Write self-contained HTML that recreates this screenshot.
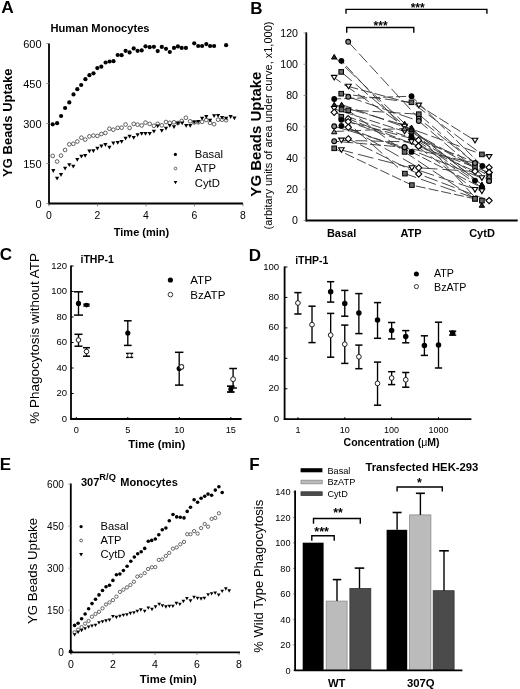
<!DOCTYPE html>
<html><head><meta charset="utf-8"><style>
html,body{margin:0;padding:0;background:#fff;width:520px;height:689px;overflow:hidden}
svg{display:block;filter:grayscale(100%)}
text{font-family:"Liberation Sans", sans-serif}
</style></head><body>
<svg width="520" height="689" viewBox="0 0 520 689">
<rect width="520" height="689" fill="#fff"/>
<text x="1.2" y="12.9" font-size="17.3" font-weight="bold" text-anchor="start" fill="#000">A</text>
<text x="50.5" y="31.5" font-size="11.15" font-weight="bold" text-anchor="start" fill="#000">Human Monocytes</text>
<text x="12.3" y="122.7" font-size="13" font-weight="bold" text-anchor="middle" fill="#000" transform="rotate(-90 12.3 122.7)">YG Beads Uptake</text>
<line x1="49" y1="43.5" x2="49" y2="204.3" stroke="#000" stroke-width="1.8"/>
<line x1="48.2" y1="203.5" x2="243" y2="203.5" stroke="#000" stroke-width="1.8"/>
<line x1="46.2" y1="203.5" x2="49" y2="203.5" stroke="#777" stroke-width="0.7"/>
<text x="41.5" y="208.0" font-size="11" text-anchor="end" fill="#000">0</text>
<line x1="46.2" y1="163.5" x2="49" y2="163.5" stroke="#777" stroke-width="0.7"/>
<text x="41.5" y="168.0" font-size="11" text-anchor="end" fill="#000">150</text>
<line x1="46.2" y1="123.5" x2="49" y2="123.5" stroke="#777" stroke-width="0.7"/>
<text x="41.5" y="128.0" font-size="11" text-anchor="end" fill="#000">300</text>
<line x1="46.2" y1="83.5" x2="49" y2="83.5" stroke="#777" stroke-width="0.7"/>
<text x="41.5" y="88.0" font-size="11" text-anchor="end" fill="#000">450</text>
<line x1="46.2" y1="43.5" x2="49" y2="43.5" stroke="#777" stroke-width="0.7"/>
<text x="41.5" y="48.0" font-size="11" text-anchor="end" fill="#000">600</text>
<line x1="49.0" y1="203.5" x2="49.0" y2="206.3" stroke="#555" stroke-width="0.7"/>
<text x="49.0" y="218.9" font-size="10.4" text-anchor="middle" fill="#000">0</text>
<line x1="97.5" y1="203.5" x2="97.5" y2="206.3" stroke="#555" stroke-width="0.7"/>
<text x="97.5" y="218.9" font-size="10.4" text-anchor="middle" fill="#000">2</text>
<line x1="146.0" y1="203.5" x2="146.0" y2="206.3" stroke="#555" stroke-width="0.7"/>
<text x="146.0" y="218.9" font-size="10.4" text-anchor="middle" fill="#000">4</text>
<line x1="194.5" y1="203.5" x2="194.5" y2="206.3" stroke="#555" stroke-width="0.7"/>
<text x="194.5" y="218.9" font-size="10.4" text-anchor="middle" fill="#000">6</text>
<line x1="243.0" y1="203.5" x2="243.0" y2="206.3" stroke="#555" stroke-width="0.7"/>
<text x="243.0" y="218.9" font-size="10.4" text-anchor="middle" fill="#000">8</text>
<text x="141.5" y="236.4" font-size="11" font-weight="bold" text-anchor="middle" fill="#000">Time (min)</text>
<circle cx="52.7" cy="155.9" r="1.85" fill="#fff" stroke="#444" stroke-width="0.85"/>
<circle cx="57.1" cy="161.5" r="1.85" fill="#fff" stroke="#444" stroke-width="0.85"/>
<circle cx="61" cy="155.6" r="1.85" fill="#fff" stroke="#444" stroke-width="0.85"/>
<circle cx="65.1" cy="150" r="1.85" fill="#fff" stroke="#444" stroke-width="0.85"/>
<circle cx="69.3" cy="144.4" r="1.85" fill="#fff" stroke="#444" stroke-width="0.85"/>
<circle cx="73.3" cy="143.8" r="1.85" fill="#fff" stroke="#444" stroke-width="0.85"/>
<circle cx="77.3" cy="141.5" r="1.85" fill="#fff" stroke="#444" stroke-width="0.85"/>
<circle cx="81.4" cy="137.7" r="1.85" fill="#fff" stroke="#444" stroke-width="0.85"/>
<circle cx="85.2" cy="139.6" r="1.85" fill="#fff" stroke="#444" stroke-width="0.85"/>
<circle cx="89.4" cy="136.4" r="1.85" fill="#fff" stroke="#444" stroke-width="0.85"/>
<circle cx="93.4" cy="135.6" r="1.85" fill="#fff" stroke="#444" stroke-width="0.85"/>
<circle cx="97.4" cy="135.9" r="1.85" fill="#fff" stroke="#444" stroke-width="0.85"/>
<circle cx="101.4" cy="134" r="1.85" fill="#fff" stroke="#444" stroke-width="0.85"/>
<circle cx="105.4" cy="132.9" r="1.85" fill="#fff" stroke="#444" stroke-width="0.85"/>
<circle cx="109.4" cy="128.7" r="1.85" fill="#fff" stroke="#444" stroke-width="0.85"/>
<circle cx="113.3" cy="129.7" r="1.85" fill="#fff" stroke="#444" stroke-width="0.85"/>
<circle cx="117.7" cy="127.9" r="1.85" fill="#fff" stroke="#444" stroke-width="0.85"/>
<circle cx="121.6" cy="127.7" r="1.85" fill="#fff" stroke="#444" stroke-width="0.85"/>
<circle cx="125.6" cy="124.5" r="1.85" fill="#fff" stroke="#444" stroke-width="0.85"/>
<circle cx="129.6" cy="127.9" r="1.85" fill="#fff" stroke="#444" stroke-width="0.85"/>
<circle cx="133.7" cy="123.9" r="1.85" fill="#fff" stroke="#444" stroke-width="0.85"/>
<circle cx="137.6" cy="124.7" r="1.85" fill="#fff" stroke="#444" stroke-width="0.85"/>
<circle cx="141.7" cy="125.5" r="1.85" fill="#fff" stroke="#444" stroke-width="0.85"/>
<circle cx="145.5" cy="122.6" r="1.85" fill="#fff" stroke="#444" stroke-width="0.85"/>
<circle cx="149.7" cy="123.9" r="1.85" fill="#fff" stroke="#444" stroke-width="0.85"/>
<circle cx="153.9" cy="125.8" r="1.85" fill="#fff" stroke="#444" stroke-width="0.85"/>
<circle cx="157.7" cy="123.9" r="1.85" fill="#fff" stroke="#444" stroke-width="0.85"/>
<circle cx="161.8" cy="125.3" r="1.85" fill="#fff" stroke="#444" stroke-width="0.85"/>
<circle cx="166" cy="122" r="1.85" fill="#fff" stroke="#444" stroke-width="0.85"/>
<circle cx="169.8" cy="122.9" r="1.85" fill="#fff" stroke="#444" stroke-width="0.85"/>
<circle cx="174" cy="122.3" r="1.85" fill="#fff" stroke="#444" stroke-width="0.85"/>
<circle cx="177.9" cy="123" r="1.85" fill="#fff" stroke="#444" stroke-width="0.85"/>
<circle cx="181.7" cy="121" r="1.85" fill="#fff" stroke="#444" stroke-width="0.85"/>
<circle cx="185.9" cy="117.8" r="1.85" fill="#fff" stroke="#444" stroke-width="0.85"/>
<circle cx="190.2" cy="121.3" r="1.85" fill="#fff" stroke="#444" stroke-width="0.85"/>
<circle cx="194.2" cy="122.5" r="1.85" fill="#fff" stroke="#444" stroke-width="0.85"/>
<circle cx="198.2" cy="122.3" r="1.85" fill="#fff" stroke="#444" stroke-width="0.85"/>
<circle cx="202.1" cy="121.8" r="1.85" fill="#fff" stroke="#444" stroke-width="0.85"/>
<circle cx="206.3" cy="120" r="1.85" fill="#fff" stroke="#444" stroke-width="0.85"/>
<circle cx="210.1" cy="122.9" r="1.85" fill="#fff" stroke="#444" stroke-width="0.85"/>
<circle cx="214.1" cy="124.2" r="1.85" fill="#fff" stroke="#444" stroke-width="0.85"/>
<circle cx="218.1" cy="119.7" r="1.85" fill="#fff" stroke="#444" stroke-width="0.85"/>
<circle cx="222.1" cy="119.7" r="1.85" fill="#fff" stroke="#444" stroke-width="0.85"/>
<circle cx="226.1" cy="120.2" r="1.85" fill="#fff" stroke="#444" stroke-width="0.85"/>
<path d="M51.20 169.10L55.40 169.10L53.30 172.90Z" fill="#000"/>
<path d="M55.00 176.70L59.20 176.70L57.10 180.50Z" fill="#000"/>
<path d="M58.90 173.10L63.10 173.10L61.00 176.90Z" fill="#000"/>
<path d="M63.00 166.80L67.20 166.80L65.10 170.60Z" fill="#000"/>
<path d="M67.20 163.30L71.40 163.30L69.30 167.10Z" fill="#000"/>
<path d="M71.20 164.80L75.40 164.80L73.30 168.60Z" fill="#000"/>
<path d="M75.20 158.00L79.40 158.00L77.30 161.80Z" fill="#000"/>
<path d="M79.30 154.80L83.50 154.80L81.40 158.60Z" fill="#000"/>
<path d="M83.10 154.00L87.30 154.00L85.20 157.80Z" fill="#000"/>
<path d="M87.30 149.50L91.50 149.50L89.40 153.30Z" fill="#000"/>
<path d="M91.30 149.20L95.50 149.20L93.40 153.00Z" fill="#000"/>
<path d="M95.30 146.80L99.50 146.80L97.40 150.60Z" fill="#000"/>
<path d="M99.30 144.40L103.50 144.40L101.40 148.20Z" fill="#000"/>
<path d="M103.30 143.10L107.50 143.10L105.40 146.90Z" fill="#000"/>
<path d="M107.30 145.70L111.50 145.70L109.40 149.50Z" fill="#000"/>
<path d="M111.20 141.50L115.40 141.50L113.30 145.30Z" fill="#000"/>
<path d="M115.60 140.90L119.80 140.90L117.70 144.70Z" fill="#000"/>
<path d="M119.50 139.90L123.70 139.90L121.60 143.70Z" fill="#000"/>
<path d="M123.50 136.70L127.70 136.70L125.60 140.50Z" fill="#000"/>
<path d="M127.50 134.80L131.70 134.80L129.60 138.60Z" fill="#000"/>
<path d="M131.60 135.90L135.80 135.90L133.70 139.70Z" fill="#000"/>
<path d="M135.50 133.20L139.70 133.20L137.60 137.00Z" fill="#000"/>
<path d="M139.60 131.90L143.80 131.90L141.70 135.70Z" fill="#000"/>
<path d="M143.40 131.90L147.60 131.90L145.50 135.70Z" fill="#000"/>
<path d="M147.60 131.90L151.80 131.90L149.70 135.70Z" fill="#000"/>
<path d="M151.80 129.70L156.00 129.70L153.90 133.50Z" fill="#000"/>
<path d="M155.60 124.40L159.80 124.40L157.70 128.20Z" fill="#000"/>
<path d="M159.70 129.00L163.90 129.00L161.80 132.80Z" fill="#000"/>
<path d="M163.90 126.80L168.10 126.80L166.00 130.60Z" fill="#000"/>
<path d="M167.70 123.90L171.90 123.90L169.80 127.70Z" fill="#000"/>
<path d="M171.90 125.20L176.10 125.20L174.00 129.00Z" fill="#000"/>
<path d="M175.80 121.70L180.00 121.70L177.90 125.50Z" fill="#000"/>
<path d="M180.10 121.50L184.30 121.50L182.20 125.30Z" fill="#000"/>
<path d="M184.10 123.90L188.30 123.90L186.20 127.70Z" fill="#000"/>
<path d="M188.10 123.90L192.30 123.90L190.20 127.70Z" fill="#000"/>
<path d="M192.10 120.40L196.30 120.40L194.20 124.20Z" fill="#000"/>
<path d="M196.10 119.90L200.30 119.90L198.20 123.70Z" fill="#000"/>
<path d="M200.00 116.70L204.20 116.70L202.10 120.50Z" fill="#000"/>
<path d="M204.20 115.10L208.40 115.10L206.30 118.90Z" fill="#000"/>
<path d="M208.00 118.80L212.20 118.80L210.10 122.60Z" fill="#000"/>
<path d="M212.00 114.30L216.20 114.30L214.10 118.10Z" fill="#000"/>
<path d="M216.00 114.00L220.20 114.00L218.10 117.80Z" fill="#000"/>
<path d="M220.00 115.90L224.20 115.90L222.10 119.70Z" fill="#000"/>
<path d="M224.00 116.70L228.20 116.70L226.10 120.50Z" fill="#000"/>
<path d="M228.50 115.10L232.70 115.10L230.60 118.90Z" fill="#000"/>
<path d="M232.30 116.40L236.50 116.40L234.40 120.20Z" fill="#000"/>
<circle cx="52.7" cy="124.3" r="2.1" fill="#000"/>
<circle cx="57.1" cy="123.2" r="2.1" fill="#000"/>
<circle cx="61.1" cy="116" r="2.1" fill="#000"/>
<circle cx="65.1" cy="108" r="2.1" fill="#000"/>
<circle cx="69.3" cy="102.4" r="2.1" fill="#000"/>
<circle cx="73.5" cy="94.4" r="2.1" fill="#000"/>
<circle cx="77.3" cy="89.2" r="2.1" fill="#000"/>
<circle cx="81.2" cy="85" r="2.1" fill="#000"/>
<circle cx="85.4" cy="79.2" r="2.1" fill="#000"/>
<circle cx="89.4" cy="75.2" r="2.1" fill="#000"/>
<circle cx="93.5" cy="73.3" r="2.1" fill="#000"/>
<circle cx="97.3" cy="68.1" r="2.1" fill="#000"/>
<circle cx="101.3" cy="66.7" r="2.1" fill="#000"/>
<circle cx="105.6" cy="62.5" r="2.1" fill="#000"/>
<circle cx="109.6" cy="61.5" r="2.1" fill="#000"/>
<circle cx="113.5" cy="61.2" r="2.1" fill="#000"/>
<circle cx="117.7" cy="55" r="2.1" fill="#000"/>
<circle cx="121.6" cy="55.2" r="2.1" fill="#000"/>
<circle cx="125.6" cy="50.8" r="2.1" fill="#000"/>
<circle cx="129.6" cy="52.4" r="2.1" fill="#000"/>
<circle cx="133.7" cy="48.4" r="2.1" fill="#000"/>
<circle cx="137.6" cy="50.8" r="2.1" fill="#000"/>
<circle cx="141.7" cy="50.4" r="2.1" fill="#000"/>
<circle cx="145.5" cy="46.3" r="2.1" fill="#000"/>
<circle cx="149.7" cy="47.2" r="2.1" fill="#000"/>
<circle cx="153.9" cy="46.8" r="2.1" fill="#000"/>
<circle cx="157.7" cy="51.1" r="2.1" fill="#000"/>
<circle cx="161.8" cy="46.9" r="2.1" fill="#000"/>
<circle cx="166" cy="48.8" r="2.1" fill="#000"/>
<circle cx="169.8" cy="52" r="2.1" fill="#000"/>
<circle cx="174" cy="47.9" r="2.1" fill="#000"/>
<circle cx="177.9" cy="46.4" r="2.1" fill="#000"/>
<circle cx="181.7" cy="47.9" r="2.1" fill="#000"/>
<circle cx="185.9" cy="47.9" r="2.1" fill="#000"/>
<circle cx="194.2" cy="43.3" r="2.1" fill="#000"/>
<circle cx="198.2" cy="46" r="2.1" fill="#000"/>
<circle cx="202.1" cy="46" r="2.1" fill="#000"/>
<circle cx="206.3" cy="44.1" r="2.1" fill="#000"/>
<circle cx="210.1" cy="46" r="2.1" fill="#000"/>
<circle cx="214.1" cy="46" r="2.1" fill="#000"/>
<circle cx="226.1" cy="45.2" r="2.1" fill="#000"/>
<circle cx="175.4" cy="154.4" r="1.6" fill="#000"/>
<circle cx="175.5" cy="168.5" r="1.35" fill="#fff" stroke="#555" stroke-width="0.95"/>
<path d="M173.65 180.95L177.35 180.95L175.50 184.25Z" fill="#000"/>
<text x="194.8" y="158.3" font-size="11.3" text-anchor="start" fill="#000">Basal</text>
<text x="194.8" y="172.4" font-size="11.3" text-anchor="start" fill="#000">ATP</text>
<text x="194.8" y="186.6" font-size="11.3" text-anchor="start" fill="#000">CytD</text>
<text x="-0.3" y="469.7" font-size="17" font-weight="bold" text-anchor="start" fill="#000">E</text>
<text x="81" y="485.8" font-size="11" font-weight="bold">307<tspan font-size="9.3" dy="-5.4">R/Q</tspan></text>
<text x="120.3" y="485.8" font-size="11" font-weight="bold" text-anchor="start" fill="#000">Monocytes</text>
<text x="37.2" y="571.0" font-size="13.25" text-anchor="middle" fill="#000" transform="rotate(-90 37.2 571.0)">YG Beads Uptake</text>
<line x1="70.8" y1="483.5" x2="70.8" y2="653.1999999999999" stroke="#000" stroke-width="1.8"/>
<line x1="70.0" y1="652.4" x2="240" y2="652.4" stroke="#000" stroke-width="1.8"/>
<line x1="68.3" y1="652.4" x2="70.8" y2="652.4" stroke="#777" stroke-width="0.7"/>
<text x="63.8" y="655.9" font-size="10" text-anchor="end" fill="#000">0</text>
<line x1="68.3" y1="610.3" x2="70.8" y2="610.3" stroke="#777" stroke-width="0.7"/>
<text x="63.8" y="613.8" font-size="10" text-anchor="end" fill="#000">150</text>
<line x1="68.3" y1="568.1999999999999" x2="70.8" y2="568.1999999999999" stroke="#777" stroke-width="0.7"/>
<text x="63.8" y="571.6999999999999" font-size="10" text-anchor="end" fill="#000">300</text>
<line x1="68.3" y1="526.1" x2="70.8" y2="526.1" stroke="#777" stroke-width="0.7"/>
<text x="63.8" y="529.6" font-size="10" text-anchor="end" fill="#000">450</text>
<line x1="68.3" y1="484.0" x2="70.8" y2="484.0" stroke="#777" stroke-width="0.7"/>
<text x="63.8" y="487.5" font-size="10" text-anchor="end" fill="#000">600</text>
<line x1="71" y1="652.4" x2="71" y2="654.9" stroke="#555" stroke-width="0.7"/>
<text x="71" y="668.3" font-size="10.5" text-anchor="middle" fill="#000">0</text>
<line x1="113" y1="652.4" x2="113" y2="654.9" stroke="#555" stroke-width="0.7"/>
<text x="113" y="668.3" font-size="10.5" text-anchor="middle" fill="#000">2</text>
<line x1="155" y1="652.4" x2="155" y2="654.9" stroke="#555" stroke-width="0.7"/>
<text x="155" y="668.3" font-size="10.5" text-anchor="middle" fill="#000">4</text>
<line x1="197" y1="652.4" x2="197" y2="654.9" stroke="#555" stroke-width="0.7"/>
<text x="197" y="668.3" font-size="10.5" text-anchor="middle" fill="#000">6</text>
<line x1="239" y1="652.4" x2="239" y2="654.9" stroke="#555" stroke-width="0.7"/>
<text x="239" y="668.3" font-size="10.5" text-anchor="middle" fill="#000">8</text>
<text x="168.3" y="682.6" font-size="11.3" font-weight="bold" text-anchor="middle" fill="#000">Time (min)</text>
<circle cx="70.7" cy="651.5" r="2" fill="#000"/>
<circle cx="74.6" cy="632.3" r="1.65" fill="#fff" stroke="#444" stroke-width="0.8"/>
<circle cx="78.1" cy="629.7" r="1.65" fill="#fff" stroke="#444" stroke-width="0.8"/>
<circle cx="81.6" cy="627.1" r="1.65" fill="#fff" stroke="#444" stroke-width="0.8"/>
<circle cx="85.1" cy="623.6" r="1.65" fill="#fff" stroke="#444" stroke-width="0.8"/>
<circle cx="88.6" cy="621" r="1.65" fill="#fff" stroke="#444" stroke-width="0.8"/>
<circle cx="92" cy="616.7" r="1.65" fill="#fff" stroke="#444" stroke-width="0.8"/>
<circle cx="95.5" cy="614" r="1.65" fill="#fff" stroke="#444" stroke-width="0.8"/>
<circle cx="99" cy="611.8" r="1.65" fill="#fff" stroke="#444" stroke-width="0.8"/>
<circle cx="102.5" cy="608.3" r="1.65" fill="#fff" stroke="#444" stroke-width="0.8"/>
<circle cx="106" cy="604.5" r="1.65" fill="#fff" stroke="#444" stroke-width="0.8"/>
<circle cx="109.5" cy="602.4" r="1.65" fill="#fff" stroke="#444" stroke-width="0.8"/>
<circle cx="112.9" cy="600.1" r="1.65" fill="#fff" stroke="#444" stroke-width="0.8"/>
<circle cx="116.4" cy="596.6" r="1.65" fill="#fff" stroke="#444" stroke-width="0.8"/>
<circle cx="119.9" cy="591.9" r="1.65" fill="#fff" stroke="#444" stroke-width="0.8"/>
<circle cx="123.4" cy="589.7" r="1.65" fill="#fff" stroke="#444" stroke-width="0.8"/>
<circle cx="126.9" cy="587.4" r="1.65" fill="#fff" stroke="#444" stroke-width="0.8"/>
<circle cx="130.4" cy="585" r="1.65" fill="#fff" stroke="#444" stroke-width="0.8"/>
<circle cx="133.9" cy="581.8" r="1.65" fill="#fff" stroke="#444" stroke-width="0.8"/>
<circle cx="137.3" cy="576.6" r="1.65" fill="#fff" stroke="#444" stroke-width="0.8"/>
<circle cx="140.8" cy="575.7" r="1.65" fill="#fff" stroke="#444" stroke-width="0.8"/>
<circle cx="144.7" cy="573.1" r="1.65" fill="#fff" stroke="#444" stroke-width="0.8"/>
<circle cx="148.1" cy="569" r="1.65" fill="#fff" stroke="#444" stroke-width="0.8"/>
<circle cx="151.9" cy="567.3" r="1.65" fill="#fff" stroke="#444" stroke-width="0.8"/>
<circle cx="155.3" cy="567.1" r="1.65" fill="#fff" stroke="#444" stroke-width="0.8"/>
<circle cx="158.8" cy="559.9" r="1.65" fill="#fff" stroke="#444" stroke-width="0.8"/>
<circle cx="162.3" cy="559.4" r="1.65" fill="#fff" stroke="#444" stroke-width="0.8"/>
<circle cx="165.9" cy="555.9" r="1.65" fill="#fff" stroke="#444" stroke-width="0.8"/>
<circle cx="169.2" cy="552.9" r="1.65" fill="#fff" stroke="#444" stroke-width="0.8"/>
<circle cx="172.9" cy="548.7" r="1.65" fill="#fff" stroke="#444" stroke-width="0.8"/>
<circle cx="176.7" cy="547.4" r="1.65" fill="#fff" stroke="#444" stroke-width="0.8"/>
<circle cx="180.3" cy="544.3" r="1.65" fill="#fff" stroke="#444" stroke-width="0.8"/>
<circle cx="184" cy="541.9" r="1.65" fill="#fff" stroke="#444" stroke-width="0.8"/>
<circle cx="187.2" cy="534.2" r="1.65" fill="#fff" stroke="#444" stroke-width="0.8"/>
<circle cx="190.5" cy="534.2" r="1.65" fill="#fff" stroke="#444" stroke-width="0.8"/>
<circle cx="194.1" cy="531.1" r="1.65" fill="#fff" stroke="#444" stroke-width="0.8"/>
<circle cx="197.6" cy="533.6" r="1.65" fill="#fff" stroke="#444" stroke-width="0.8"/>
<circle cx="201.1" cy="528.1" r="1.65" fill="#fff" stroke="#444" stroke-width="0.8"/>
<circle cx="204.7" cy="524" r="1.65" fill="#fff" stroke="#444" stroke-width="0.8"/>
<circle cx="208" cy="526.7" r="1.65" fill="#fff" stroke="#444" stroke-width="0.8"/>
<circle cx="211.6" cy="518.9" r="1.65" fill="#fff" stroke="#444" stroke-width="0.8"/>
<circle cx="215.3" cy="517.9" r="1.65" fill="#fff" stroke="#444" stroke-width="0.8"/>
<circle cx="218.9" cy="513.3" r="1.65" fill="#fff" stroke="#444" stroke-width="0.8"/>
<path d="M72.75 633.25L76.45 633.25L74.60 636.55Z" fill="#000"/>
<path d="M76.25 630.65L79.95 630.65L78.10 633.95Z" fill="#000"/>
<path d="M79.75 628.95L83.45 628.95L81.60 632.25Z" fill="#000"/>
<path d="M83.25 627.25L86.95 627.25L85.10 630.55Z" fill="#000"/>
<path d="M86.75 625.45L90.45 625.45L88.60 628.75Z" fill="#000"/>
<path d="M90.15 624.55L93.85 624.55L92.00 627.85Z" fill="#000"/>
<path d="M93.65 623.75L97.35 623.75L95.50 627.05Z" fill="#000"/>
<path d="M97.15 621.15L100.85 621.15L99.00 624.45Z" fill="#000"/>
<path d="M100.65 620.25L104.35 620.25L102.50 623.55Z" fill="#000"/>
<path d="M104.15 619.35L107.85 619.35L106.00 622.65Z" fill="#000"/>
<path d="M107.65 618.45L111.35 618.45L109.50 621.75Z" fill="#000"/>
<path d="M111.05 615.05L114.75 615.05L112.90 618.35Z" fill="#000"/>
<path d="M114.55 615.85L118.25 615.85L116.40 619.15Z" fill="#000"/>
<path d="M118.05 614.65L121.75 614.65L119.90 617.95Z" fill="#000"/>
<path d="M121.55 613.65L125.25 613.65L123.40 616.95Z" fill="#000"/>
<path d="M125.05 613.25L128.75 613.25L126.90 616.55Z" fill="#000"/>
<path d="M128.55 611.85L132.25 611.85L130.40 615.15Z" fill="#000"/>
<path d="M132.05 611.15L135.75 611.15L133.90 614.45Z" fill="#000"/>
<path d="M135.45 609.75L139.15 609.75L137.30 613.05Z" fill="#000"/>
<path d="M138.95 608.35L142.65 608.35L140.80 611.65Z" fill="#000"/>
<path d="M142.85 609.75L146.55 609.75L144.70 613.05Z" fill="#000"/>
<path d="M146.45 606.55L150.15 606.55L148.30 609.85Z" fill="#000"/>
<path d="M150.15 607.85L153.85 607.85L152.00 611.15Z" fill="#000"/>
<path d="M153.65 605.35L157.35 605.35L155.50 608.65Z" fill="#000"/>
<path d="M157.35 602.65L161.05 602.65L159.20 605.95Z" fill="#000"/>
<path d="M160.55 604.15L164.25 604.15L162.40 607.45Z" fill="#000"/>
<path d="M164.05 605.35L167.75 605.35L165.90 608.65Z" fill="#000"/>
<path d="M167.55 604.65L171.25 604.65L169.40 607.95Z" fill="#000"/>
<path d="M171.05 604.65L174.75 604.65L172.90 607.95Z" fill="#000"/>
<path d="M174.55 601.85L178.25 601.85L176.40 605.15Z" fill="#000"/>
<path d="M178.05 602.65L181.75 602.65L179.90 605.95Z" fill="#000"/>
<path d="M181.55 599.85L185.25 599.85L183.40 603.15Z" fill="#000"/>
<path d="M185.05 597.05L188.75 597.05L186.90 600.35Z" fill="#000"/>
<path d="M188.65 599.35L192.35 599.35L190.50 602.65Z" fill="#000"/>
<path d="M192.15 595.75L195.85 595.75L194.00 599.05Z" fill="#000"/>
<path d="M195.65 596.75L199.35 596.75L197.50 600.05Z" fill="#000"/>
<path d="M199.25 597.35L202.95 597.35L201.10 600.65Z" fill="#000"/>
<path d="M202.55 596.75L206.25 596.75L204.40 600.05Z" fill="#000"/>
<path d="M206.25 593.15L209.95 593.15L208.10 596.45Z" fill="#000"/>
<path d="M209.75 592.15L213.45 592.15L211.60 595.45Z" fill="#000"/>
<path d="M213.35 591.45L217.05 591.45L215.20 594.75Z" fill="#000"/>
<path d="M216.85 593.55L220.55 593.55L218.70 596.85Z" fill="#000"/>
<path d="M220.35 589.65L224.05 589.65L222.20 592.95Z" fill="#000"/>
<path d="M223.95 587.35L227.65 587.35L225.80 590.65Z" fill="#000"/>
<path d="M227.35 589.35L231.05 589.35L229.20 592.65Z" fill="#000"/>
<circle cx="74.6" cy="625.4" r="1.8" fill="#000"/>
<circle cx="78.1" cy="623.3" r="1.8" fill="#000"/>
<circle cx="81.6" cy="618.7" r="1.8" fill="#000"/>
<circle cx="85.1" cy="614" r="1.8" fill="#000"/>
<circle cx="88.6" cy="608.8" r="1.8" fill="#000"/>
<circle cx="92" cy="603.6" r="1.8" fill="#000"/>
<circle cx="95.5" cy="599.2" r="1.8" fill="#000"/>
<circle cx="99" cy="594.9" r="1.8" fill="#000"/>
<circle cx="102.5" cy="590.5" r="1.8" fill="#000"/>
<circle cx="106" cy="586.7" r="1.8" fill="#000"/>
<circle cx="109.5" cy="585.3" r="1.8" fill="#000"/>
<circle cx="112.9" cy="580.4" r="1.8" fill="#000"/>
<circle cx="116.4" cy="574.8" r="1.8" fill="#000"/>
<circle cx="119.9" cy="574" r="1.8" fill="#000"/>
<circle cx="123.4" cy="570.5" r="1.8" fill="#000"/>
<circle cx="127.1" cy="566.2" r="1.8" fill="#000"/>
<circle cx="130.8" cy="561.2" r="1.8" fill="#000"/>
<circle cx="134.3" cy="557" r="1.8" fill="#000"/>
<circle cx="137.7" cy="553.7" r="1.8" fill="#000"/>
<circle cx="141.2" cy="551.7" r="1.8" fill="#000"/>
<circle cx="144.7" cy="548.4" r="1.8" fill="#000"/>
<circle cx="148.3" cy="541.3" r="1.8" fill="#000"/>
<circle cx="151.7" cy="540.4" r="1.8" fill="#000"/>
<circle cx="155.3" cy="539" r="1.8" fill="#000"/>
<circle cx="158.8" cy="534.7" r="1.8" fill="#000"/>
<circle cx="162.3" cy="529.8" r="1.8" fill="#000"/>
<circle cx="165.9" cy="528" r="1.8" fill="#000"/>
<circle cx="169.3" cy="520.7" r="1.8" fill="#000"/>
<circle cx="173" cy="514.5" r="1.8" fill="#000"/>
<circle cx="176.7" cy="516.9" r="1.8" fill="#000"/>
<circle cx="180.3" cy="517.3" r="1.8" fill="#000"/>
<circle cx="184" cy="517.9" r="1.8" fill="#000"/>
<circle cx="187.2" cy="511.4" r="1.8" fill="#000"/>
<circle cx="190.5" cy="507.2" r="1.8" fill="#000"/>
<circle cx="194.1" cy="499.8" r="1.8" fill="#000"/>
<circle cx="197.6" cy="502.3" r="1.8" fill="#000"/>
<circle cx="201.1" cy="498.2" r="1.8" fill="#000"/>
<circle cx="204.7" cy="496.2" r="1.8" fill="#000"/>
<circle cx="208" cy="494.1" r="1.8" fill="#000"/>
<circle cx="211.6" cy="495.2" r="1.8" fill="#000"/>
<circle cx="215.3" cy="490.1" r="1.8" fill="#000"/>
<circle cx="218.9" cy="486.8" r="1.8" fill="#000"/>
<circle cx="222.2" cy="492.5" r="1.8" fill="#000"/>
<circle cx="81.1" cy="526.6" r="1.6" fill="#000"/>
<circle cx="81.1" cy="540.5" r="1.4" fill="#fff" stroke="#555" stroke-width="0.95"/>
<path d="M79.20 553.10L83.00 553.10L81.10 556.50Z" fill="#000"/>
<text x="100.5" y="530.4" font-size="11.2" text-anchor="start" fill="#000">Basal</text>
<text x="100.5" y="544.4" font-size="11.2" text-anchor="start" fill="#000">ATP</text>
<text x="100.5" y="558.3" font-size="11.2" text-anchor="start" fill="#000">CytD</text>
<text x="-0.3" y="260.3" font-size="17" font-weight="bold" text-anchor="start" fill="#000">C</text>
<text x="80.5" y="263" font-size="10.5" font-weight="bold" text-anchor="start" fill="#000">iTHP-1</text>
<text x="38.8" y="338.3" font-size="13.5" text-anchor="middle" fill="#000" transform="rotate(-90 38.8 338.3)">% Phagocytosis without ATP</text>
<line x1="71" y1="265.5" x2="71" y2="419.8" stroke="#000" stroke-width="1.8"/>
<line x1="70.2" y1="419" x2="241.6" y2="419" stroke="#000" stroke-width="1.8"/>
<line x1="71" y1="419.0" x2="73.6" y2="419.0" stroke="#000" stroke-width="1"/>
<text x="67.0" y="421.6" font-size="9.5" text-anchor="end" fill="#000">0</text>
<line x1="71" y1="393.5" x2="73.6" y2="393.5" stroke="#000" stroke-width="1"/>
<text x="67.0" y="396.1" font-size="9.5" text-anchor="end" fill="#000">20</text>
<line x1="71" y1="368.0" x2="73.6" y2="368.0" stroke="#000" stroke-width="1"/>
<text x="67.0" y="370.6" font-size="9.5" text-anchor="end" fill="#000">40</text>
<line x1="71" y1="342.5" x2="73.6" y2="342.5" stroke="#000" stroke-width="1"/>
<text x="67.0" y="345.1" font-size="9.5" text-anchor="end" fill="#000">60</text>
<line x1="71" y1="317.0" x2="73.6" y2="317.0" stroke="#000" stroke-width="1"/>
<text x="67.0" y="319.6" font-size="9.5" text-anchor="end" fill="#000">80</text>
<line x1="71" y1="291.5" x2="73.6" y2="291.5" stroke="#000" stroke-width="1"/>
<text x="67.0" y="294.1" font-size="9.5" text-anchor="end" fill="#000">100</text>
<line x1="71" y1="266.0" x2="73.6" y2="266.0" stroke="#000" stroke-width="1"/>
<text x="67.0" y="268.6" font-size="9.5" text-anchor="end" fill="#000">120</text>
<line x1="76.3" y1="419" x2="76.3" y2="417" stroke="#000" stroke-width="1"/>
<text x="76.3" y="433.4" font-size="9.2" text-anchor="middle" fill="#000">0</text>
<line x1="127.8" y1="419" x2="127.8" y2="417" stroke="#000" stroke-width="1"/>
<text x="127.8" y="433.4" font-size="9.2" text-anchor="middle" fill="#000">5</text>
<line x1="179.3" y1="419" x2="179.3" y2="417" stroke="#000" stroke-width="1"/>
<text x="179.3" y="433.4" font-size="9.2" text-anchor="middle" fill="#000">10</text>
<line x1="230.8" y1="419" x2="230.8" y2="417" stroke="#000" stroke-width="1"/>
<text x="230.8" y="433.4" font-size="9.2" text-anchor="middle" fill="#000">15</text>
<text x="156.8" y="447.8" font-size="11.3" font-weight="bold" text-anchor="middle" fill="#000">Time (min)</text>
<line x1="78.5" y1="291.8" x2="78.5" y2="315.1" stroke="#000" stroke-width="1.35"/>
<line x1="74.0" y1="291.8" x2="83.0" y2="291.8" stroke="#000" stroke-width="1.5"/>
<line x1="74.0" y1="315.1" x2="83.0" y2="315.1" stroke="#000" stroke-width="1.5"/>
<circle cx="78.5" cy="303.4" r="2.6" fill="#000"/>
<line x1="86.5" y1="304.2" x2="86.5" y2="306.0" stroke="#000" stroke-width="1.2"/>
<line x1="83.25" y1="304.2" x2="89.75" y2="304.2" stroke="#000" stroke-width="1.4"/>
<line x1="83.25" y1="306.0" x2="89.75" y2="306.0" stroke="#000" stroke-width="1.4"/>
<circle cx="86.5" cy="305.1" r="2.4" fill="#000"/>
<line x1="78.5" y1="334.3" x2="78.5" y2="346.2" stroke="#000" stroke-width="1.35"/>
<line x1="74.5" y1="334.3" x2="82.5" y2="334.3" stroke="#000" stroke-width="1.5"/>
<line x1="74.5" y1="346.2" x2="82.5" y2="346.2" stroke="#000" stroke-width="1.5"/>
<circle cx="78.5" cy="340" r="2.3" fill="#fff" stroke="#222" stroke-width="1"/>
<line x1="86.5" y1="347.7" x2="86.5" y2="356.2" stroke="#000" stroke-width="1.35"/>
<line x1="83.0" y1="347.7" x2="90.0" y2="347.7" stroke="#000" stroke-width="1.5"/>
<line x1="83.0" y1="356.2" x2="90.0" y2="356.2" stroke="#000" stroke-width="1.5"/>
<circle cx="86.5" cy="351.5" r="2.3" fill="#fff" stroke="#222" stroke-width="1"/>
<line x1="127.8" y1="320.8" x2="127.8" y2="345.4" stroke="#000" stroke-width="1.35"/>
<line x1="123.95" y1="320.8" x2="131.65" y2="320.8" stroke="#000" stroke-width="1.5"/>
<line x1="123.95" y1="345.4" x2="131.65" y2="345.4" stroke="#000" stroke-width="1.5"/>
<circle cx="127.8" cy="333.1" r="2.6" fill="#000"/>
<line x1="129.6" y1="353.4" x2="129.6" y2="357.4" stroke="#000" stroke-width="1.2"/>
<line x1="126.0" y1="353.4" x2="133.2" y2="353.4" stroke="#000" stroke-width="1.4"/>
<line x1="126.0" y1="357.4" x2="133.2" y2="357.4" stroke="#000" stroke-width="1.4"/>
<circle cx="129.6" cy="355.4" r="2.1" fill="#fff" stroke="#222" stroke-width="1"/>
<line x1="179.2" y1="352.3" x2="179.2" y2="385.1" stroke="#000" stroke-width="1.35"/>
<line x1="175.0" y1="352.3" x2="183.39999999999998" y2="352.3" stroke="#000" stroke-width="1.5"/>
<line x1="175.0" y1="385.1" x2="183.39999999999998" y2="385.1" stroke="#000" stroke-width="1.5"/>
<circle cx="179.2" cy="368.5" r="2.6" fill="#000"/>
<line x1="182.0" y1="365.3" x2="182.0" y2="368.5" stroke="#000" stroke-width="1.35"/>
<line x1="180.5" y1="365.3" x2="183.5" y2="365.3" stroke="#000" stroke-width="1.5"/>
<line x1="180.5" y1="368.5" x2="183.5" y2="368.5" stroke="#000" stroke-width="1.5"/>
<circle cx="181.5" cy="366.9" r="2.3" fill="#fff" stroke="#222" stroke-width="1"/>
<line x1="233.1" y1="368.5" x2="233.1" y2="388" stroke="#000" stroke-width="1.35"/>
<line x1="229.25" y1="368.5" x2="236.95" y2="368.5" stroke="#000" stroke-width="1.5"/>
<line x1="229.25" y1="388" x2="236.95" y2="388" stroke="#000" stroke-width="1.5"/>
<circle cx="233.1" cy="379.2" r="2.4" fill="#fff" stroke="#222" stroke-width="1"/>
<line x1="230.8" y1="386.2" x2="230.8" y2="392" stroke="#000" stroke-width="1.5"/>
<line x1="227.05" y1="386.2" x2="234.55" y2="386.2" stroke="#000" stroke-width="1.8"/>
<line x1="227.05" y1="392" x2="234.55" y2="392" stroke="#000" stroke-width="1.8"/>
<circle cx="230.8" cy="389.2" r="2.5" fill="#000"/>
<circle cx="170.4" cy="280" r="2.6" fill="#000"/>
<circle cx="170.4" cy="294.6" r="2.3" fill="#fff" stroke="#222" stroke-width="0.9"/>
<text x="190.2" y="284.4" font-size="11.6" text-anchor="start" fill="#000">ATP</text>
<text x="190.2" y="298.6" font-size="11.6" text-anchor="start" fill="#000">BzATP</text>
<text x="248.7" y="260.9" font-size="17" font-weight="bold" text-anchor="start" fill="#000">D</text>
<text x="295.2" y="263.5" font-size="10.5" font-weight="bold" text-anchor="start" fill="#000">iTHP-1</text>
<line x1="284.6" y1="266.5" x2="284.6" y2="420.0" stroke="#000" stroke-width="1.8"/>
<line x1="283.8" y1="419.2" x2="471.4" y2="419.2" stroke="#000" stroke-width="1.8"/>
<line x1="284.6" y1="419.2" x2="287.40000000000003" y2="419.2" stroke="#000" stroke-width="1"/>
<text x="279.2" y="421.8" font-size="9.6" text-anchor="end" fill="#000">0</text>
<line x1="284.6" y1="388.76" x2="287.40000000000003" y2="388.76" stroke="#000" stroke-width="1"/>
<text x="279.2" y="391.36" font-size="9.6" text-anchor="end" fill="#000">20</text>
<line x1="284.6" y1="358.32" x2="287.40000000000003" y2="358.32" stroke="#000" stroke-width="1"/>
<text x="279.2" y="360.92" font-size="9.6" text-anchor="end" fill="#000">40</text>
<line x1="284.6" y1="327.88" x2="287.40000000000003" y2="327.88" stroke="#000" stroke-width="1"/>
<text x="279.2" y="330.48" font-size="9.6" text-anchor="end" fill="#000">60</text>
<line x1="284.6" y1="297.44" x2="287.40000000000003" y2="297.44" stroke="#000" stroke-width="1"/>
<text x="279.2" y="300.04" font-size="9.6" text-anchor="end" fill="#000">80</text>
<line x1="284.6" y1="267.0" x2="287.40000000000003" y2="267.0" stroke="#000" stroke-width="1"/>
<text x="279.2" y="269.6" font-size="9.6" text-anchor="end" fill="#000">100</text>
<line x1="297.9" y1="419.2" x2="297.9" y2="417.2" stroke="#000" stroke-width="1"/>
<text x="297.9" y="433.2" font-size="9" text-anchor="middle" fill="#000">1</text>
<line x1="344.77" y1="419.2" x2="344.77" y2="417.2" stroke="#000" stroke-width="1"/>
<text x="344.77" y="433.2" font-size="9" text-anchor="middle" fill="#000">10</text>
<line x1="391.64" y1="419.2" x2="391.64" y2="417.2" stroke="#000" stroke-width="1"/>
<text x="391.64" y="433.2" font-size="9" text-anchor="middle" fill="#000">100</text>
<line x1="438.51" y1="419.2" x2="438.51" y2="417.2" stroke="#000" stroke-width="1"/>
<text x="438.51" y="433.2" font-size="9" text-anchor="middle" fill="#000">1000</text>
<text x="391.5" y="446.3" font-size="10.5" font-weight="bold" text-anchor="middle">Concentration (<tspan font-weight="normal">μ</tspan>M)</text>
<line x1="297.9" y1="292.6" x2="297.9" y2="314" stroke="#000" stroke-width="1.35"/>
<line x1="294.29999999999995" y1="292.6" x2="301.5" y2="292.6" stroke="#000" stroke-width="1.5"/>
<line x1="294.29999999999995" y1="314" x2="301.5" y2="314" stroke="#000" stroke-width="1.5"/>
<circle cx="297.9" cy="303" r="2.35" fill="#fff" stroke="#222" stroke-width="1"/>
<line x1="312.00927589677076" y1="306.2" x2="312.00927589677076" y2="342.6" stroke="#000" stroke-width="1.35"/>
<line x1="308.40927589677074" y1="306.2" x2="315.6092758967708" y2="306.2" stroke="#000" stroke-width="1.5"/>
<line x1="308.40927589677074" y1="342.6" x2="315.6092758967708" y2="342.6" stroke="#000" stroke-width="1.5"/>
<circle cx="312.00927589677076" cy="324.7" r="2.35" fill="#fff" stroke="#222" stroke-width="1"/>
<line x1="330.6607241032292" y1="313.4" x2="330.6607241032292" y2="357.2" stroke="#000" stroke-width="1.35"/>
<line x1="327.0607241032292" y1="313.4" x2="334.2607241032292" y2="313.4" stroke="#000" stroke-width="1.5"/>
<line x1="327.0607241032292" y1="357.2" x2="334.2607241032292" y2="357.2" stroke="#000" stroke-width="1.5"/>
<circle cx="330.6607241032292" cy="335.1" r="2.35" fill="#fff" stroke="#222" stroke-width="1"/>
<line x1="344.77" y1="325.1" x2="344.77" y2="363.4" stroke="#000" stroke-width="1.35"/>
<line x1="341.16999999999996" y1="325.1" x2="348.37" y2="325.1" stroke="#000" stroke-width="1.5"/>
<line x1="341.16999999999996" y1="363.4" x2="348.37" y2="363.4" stroke="#000" stroke-width="1.5"/>
<circle cx="344.77" cy="344.2" r="2.35" fill="#fff" stroke="#222" stroke-width="1"/>
<line x1="358.87927589677076" y1="345.1" x2="358.87927589677076" y2="368.7" stroke="#000" stroke-width="1.35"/>
<line x1="355.27927589677074" y1="345.1" x2="362.4792758967708" y2="345.1" stroke="#000" stroke-width="1.5"/>
<line x1="355.27927589677074" y1="368.7" x2="362.4792758967708" y2="368.7" stroke="#000" stroke-width="1.5"/>
<circle cx="358.87927589677076" cy="356.8" r="2.35" fill="#fff" stroke="#222" stroke-width="1"/>
<line x1="377.5307241032292" y1="362.1" x2="377.5307241032292" y2="405.2" stroke="#000" stroke-width="1.35"/>
<line x1="373.9307241032292" y1="362.1" x2="381.1307241032292" y2="362.1" stroke="#000" stroke-width="1.5"/>
<line x1="373.9307241032292" y1="405.2" x2="381.1307241032292" y2="405.2" stroke="#000" stroke-width="1.5"/>
<circle cx="377.5307241032292" cy="383.4" r="2.35" fill="#fff" stroke="#222" stroke-width="1"/>
<line x1="391.64" y1="371.7" x2="391.64" y2="384.6" stroke="#000" stroke-width="1.35"/>
<line x1="388.03999999999996" y1="371.7" x2="395.24" y2="371.7" stroke="#000" stroke-width="1.5"/>
<line x1="388.03999999999996" y1="384.6" x2="395.24" y2="384.6" stroke="#000" stroke-width="1.5"/>
<circle cx="391.64" cy="378" r="2.35" fill="#fff" stroke="#222" stroke-width="1"/>
<line x1="405.74927589677077" y1="372.5" x2="405.74927589677077" y2="387.2" stroke="#000" stroke-width="1.35"/>
<line x1="402.14927589677075" y1="372.5" x2="409.3492758967708" y2="372.5" stroke="#000" stroke-width="1.5"/>
<line x1="402.14927589677075" y1="387.2" x2="409.3492758967708" y2="387.2" stroke="#000" stroke-width="1.5"/>
<circle cx="405.74927589677077" cy="379.8" r="2.35" fill="#fff" stroke="#222" stroke-width="1"/>
<line x1="330.6607241032292" y1="281.7" x2="330.6607241032292" y2="302.1" stroke="#000" stroke-width="1.35"/>
<line x1="327.0607241032292" y1="281.7" x2="334.2607241032292" y2="281.7" stroke="#000" stroke-width="1.5"/>
<line x1="327.0607241032292" y1="302.1" x2="334.2607241032292" y2="302.1" stroke="#000" stroke-width="1.5"/>
<circle cx="330.6607241032292" cy="291.7" r="2.75" fill="#000"/>
<line x1="344.77" y1="290.4" x2="344.77" y2="316.2" stroke="#000" stroke-width="1.35"/>
<line x1="341.16999999999996" y1="290.4" x2="348.37" y2="290.4" stroke="#000" stroke-width="1.5"/>
<line x1="341.16999999999996" y1="316.2" x2="348.37" y2="316.2" stroke="#000" stroke-width="1.5"/>
<circle cx="344.77" cy="303.6" r="2.75" fill="#000"/>
<line x1="358.87927589677076" y1="293.6" x2="358.87927589677076" y2="333.6" stroke="#000" stroke-width="1.35"/>
<line x1="355.27927589677074" y1="293.6" x2="362.4792758967708" y2="293.6" stroke="#000" stroke-width="1.5"/>
<line x1="355.27927589677074" y1="333.6" x2="362.4792758967708" y2="333.6" stroke="#000" stroke-width="1.5"/>
<circle cx="358.87927589677076" cy="313" r="2.75" fill="#000"/>
<line x1="377.5307241032292" y1="302.6" x2="377.5307241032292" y2="338.3" stroke="#000" stroke-width="1.35"/>
<line x1="373.9307241032292" y1="302.6" x2="381.1307241032292" y2="302.6" stroke="#000" stroke-width="1.5"/>
<line x1="373.9307241032292" y1="338.3" x2="381.1307241032292" y2="338.3" stroke="#000" stroke-width="1.5"/>
<circle cx="377.5307241032292" cy="320" r="2.75" fill="#000"/>
<line x1="391.64" y1="322.5" x2="391.64" y2="338.9" stroke="#000" stroke-width="1.35"/>
<line x1="388.03999999999996" y1="322.5" x2="395.24" y2="322.5" stroke="#000" stroke-width="1.5"/>
<line x1="388.03999999999996" y1="338.9" x2="395.24" y2="338.9" stroke="#000" stroke-width="1.5"/>
<circle cx="391.64" cy="330.4" r="2.75" fill="#000"/>
<line x1="405.74927589677077" y1="330.6" x2="405.74927589677077" y2="342.8" stroke="#000" stroke-width="1.35"/>
<line x1="402.14927589677075" y1="330.6" x2="409.3492758967708" y2="330.6" stroke="#000" stroke-width="1.5"/>
<line x1="402.14927589677075" y1="342.8" x2="409.3492758967708" y2="342.8" stroke="#000" stroke-width="1.5"/>
<circle cx="405.74927589677077" cy="336.4" r="2.75" fill="#000"/>
<line x1="424.40072410322915" y1="335.8" x2="424.40072410322915" y2="355.4" stroke="#000" stroke-width="1.35"/>
<line x1="420.80072410322913" y1="335.8" x2="428.0007241032292" y2="335.8" stroke="#000" stroke-width="1.5"/>
<line x1="420.80072410322913" y1="355.4" x2="428.0007241032292" y2="355.4" stroke="#000" stroke-width="1.5"/>
<circle cx="424.40072410322915" cy="345.5" r="2.75" fill="#000"/>
<line x1="438.51" y1="322.2" x2="438.51" y2="368" stroke="#000" stroke-width="1.35"/>
<line x1="434.90999999999997" y1="322.2" x2="442.11" y2="322.2" stroke="#000" stroke-width="1.5"/>
<line x1="434.90999999999997" y1="368" x2="442.11" y2="368" stroke="#000" stroke-width="1.5"/>
<circle cx="438.51" cy="344.9" r="2.75" fill="#000"/>
<line x1="452.6192758967708" y1="331.2" x2="452.6192758967708" y2="335.1" stroke="#000" stroke-width="1.35"/>
<line x1="449.01927589677075" y1="331.2" x2="456.2192758967708" y2="331.2" stroke="#000" stroke-width="1.5"/>
<line x1="449.01927589677075" y1="335.1" x2="456.2192758967708" y2="335.1" stroke="#000" stroke-width="1.5"/>
<circle cx="452.6192758967708" cy="333.1" r="2.75" fill="#000"/>
<circle cx="416.4" cy="274.1" r="2.5" fill="#000"/>
<circle cx="416.4" cy="286.6" r="2.1" fill="#fff" stroke="#222" stroke-width="0.9"/>
<text x="434.0" y="277.4" font-size="10.7" text-anchor="start" fill="#000">ATP</text>
<text x="434.0" y="290.5" font-size="10.7" text-anchor="start" fill="#000">BzATP</text>
<text x="249.2" y="469.7" font-size="17" font-weight="bold" text-anchor="start" fill="#000">F</text>
<text x="365.4" y="471.2" font-size="11.3" font-weight="bold" text-anchor="start" fill="#000">Transfected HEK-293</text>
<text x="263.0" y="576.2" font-size="13.0" text-anchor="middle" fill="#000" transform="rotate(-90 263.0 576.2)">% Wild Type Phagocytosis</text>
<line x1="292.90000000000003" y1="670.3" x2="295.1" y2="670.3" stroke="#777" stroke-width="0.7"/>
<text x="290.5" y="673.5999999999999" font-size="9.2" text-anchor="end" fill="#000">0</text>
<line x1="292.90000000000003" y1="644.8285714285714" x2="295.1" y2="644.8285714285714" stroke="#777" stroke-width="0.7"/>
<text x="290.5" y="648.1285714285714" font-size="9.2" text-anchor="end" fill="#000">20</text>
<line x1="292.90000000000003" y1="619.3571428571428" x2="295.1" y2="619.3571428571428" stroke="#777" stroke-width="0.7"/>
<text x="290.5" y="622.6571428571427" font-size="9.2" text-anchor="end" fill="#000">40</text>
<line x1="292.90000000000003" y1="593.8857142857142" x2="295.1" y2="593.8857142857142" stroke="#777" stroke-width="0.7"/>
<text x="290.5" y="597.1857142857142" font-size="9.2" text-anchor="end" fill="#000">60</text>
<line x1="292.90000000000003" y1="568.4142857142857" x2="295.1" y2="568.4142857142857" stroke="#777" stroke-width="0.7"/>
<text x="290.5" y="571.7142857142857" font-size="9.2" text-anchor="end" fill="#000">80</text>
<line x1="292.90000000000003" y1="542.9428571428571" x2="295.1" y2="542.9428571428571" stroke="#777" stroke-width="0.7"/>
<text x="290.5" y="546.242857142857" font-size="9.2" text-anchor="end" fill="#000">100</text>
<line x1="292.90000000000003" y1="517.4714285714285" x2="295.1" y2="517.4714285714285" stroke="#777" stroke-width="0.7"/>
<text x="290.5" y="520.7714285714285" font-size="9.2" text-anchor="end" fill="#000">120</text>
<line x1="292.90000000000003" y1="491.99999999999994" x2="295.1" y2="491.99999999999994" stroke="#777" stroke-width="0.7"/>
<text x="290.5" y="495.29999999999995" font-size="9.2" text-anchor="end" fill="#000">140</text>
<rect x="302.7" y="542.7" width="20.900000000000034" height="127.59999999999991" fill="#000"/>
<rect x="326.2" y="601.1" width="20.900000000000034" height="69.19999999999993" fill="#bbb" stroke="#8a8a8a" stroke-width="0.8"/>
<line x1="337.0" y1="579.6" x2="337.0" y2="601.1" stroke="#000" stroke-width="1.4"/>
<line x1="332.75" y1="579.6" x2="341.25" y2="579.6" stroke="#000" stroke-width="1.6"/>
<rect x="349.9" y="588.4" width="20.900000000000034" height="81.89999999999998" fill="#4b4b4b" stroke="#333" stroke-width="0.8"/>
<line x1="359.5" y1="568.1" x2="359.5" y2="588.4" stroke="#000" stroke-width="1.4"/>
<line x1="354.75" y1="568.1" x2="364.25" y2="568.1" stroke="#000" stroke-width="1.6"/>
<rect x="386.6" y="529.8" width="20.599999999999966" height="140.5" fill="#000"/>
<line x1="397.1" y1="512.5" x2="397.1" y2="529.8" stroke="#000" stroke-width="1.4"/>
<line x1="392.6" y1="512.5" x2="401.6" y2="512.5" stroke="#000" stroke-width="1.6"/>
<rect x="409.6" y="514.9" width="21.299999999999955" height="155.39999999999998" fill="#bbb" stroke="#8a8a8a" stroke-width="0.8"/>
<line x1="420.4" y1="493.3" x2="420.4" y2="514.9" stroke="#000" stroke-width="1.4"/>
<line x1="415.9" y1="493.3" x2="424.9" y2="493.3" stroke="#000" stroke-width="1.6"/>
<rect x="433.2" y="590.7" width="20.900000000000034" height="79.59999999999991" fill="#4b4b4b" stroke="#333" stroke-width="0.8"/>
<line x1="444.0" y1="550.8" x2="444.0" y2="590.7" stroke="#000" stroke-width="1.4"/>
<line x1="439.2" y1="550.8" x2="448.8" y2="550.8" stroke="#000" stroke-width="1.6"/>
<line x1="295.1" y1="490.5" x2="295.1" y2="671.0999999999999" stroke="#000" stroke-width="1.8"/>
<line x1="294.3" y1="670.3" x2="462.4" y2="670.3" stroke="#000" stroke-width="1.8"/>
<text x="336.7" y="687.2" font-size="11.3" font-weight="bold" text-anchor="middle" fill="#000">WT</text>
<text x="420.7" y="686.6" font-size="11.3" font-weight="bold" text-anchor="middle" fill="#000">307Q</text>
<rect x="300.6" y="468.2" width="21.8" height="4.1" fill="#000"/>
<rect x="301.0" y="480.2" width="21.2" height="3.6" fill="#bbb" stroke="#8a8a8a" stroke-width="0.8"/>
<rect x="301.0" y="491.8" width="21.2" height="3.6" fill="#4b4b4b" stroke="#333" stroke-width="0.8"/>
<text x="327.4" y="473.7" font-size="9.2" text-anchor="start" fill="#000">Basal</text>
<text x="327.4" y="485.2" font-size="9.2" text-anchor="start" fill="#000">BzATP</text>
<text x="327.4" y="496.7" font-size="9.2" text-anchor="start" fill="#000">CytD</text>
<path d="M311.8 540.8V535.8H334.2V540.8" fill="none" stroke="#000" stroke-width="1.4"/>
<text x="321.6" y="535.9" font-size="12.5" font-weight="bold" text-anchor="middle" fill="#000">***</text>
<path d="M313.5 523.8V518.5H360.3V523.8" fill="none" stroke="#000" stroke-width="1.4"/>
<text x="338.0" y="516.6" font-size="12.3" font-weight="bold" text-anchor="middle" fill="#000">**</text>
<path d="M397.1 491.5V487H442.3V491.5" fill="none" stroke="#000" stroke-width="1.4"/>
<text x="419.5" y="487.4" font-size="12.3" font-weight="bold" text-anchor="middle" fill="#000">*</text>
<text x="250.2" y="13.8" font-size="17" font-weight="bold" text-anchor="start" fill="#000">B</text>
<text x="261.2" y="134.1" font-size="15" font-weight="bold" text-anchor="middle" fill="#000" transform="rotate(-90 261.2 134.1)">YG Beads Uptake</text>
<text x="272" y="125.5" font-size="11" text-anchor="middle" fill="#000" transform="rotate(-90 272 125.5)">(arbitary units of area under curve, x1,000)</text>
<line x1="306.3" y1="32.3" x2="306.3" y2="221.3" stroke="#000" stroke-width="1.8"/>
<line x1="305.5" y1="220.5" x2="517.7" y2="220.5" stroke="#000" stroke-width="1.8"/>
<line x1="303.5" y1="220.5" x2="306.3" y2="220.5" stroke="#777" stroke-width="0.7"/>
<text x="298" y="224.3" font-size="10.6" text-anchor="end" fill="#000">0</text>
<line x1="303.5" y1="189.25" x2="306.3" y2="189.25" stroke="#777" stroke-width="0.7"/>
<text x="298" y="193.05" font-size="10.6" text-anchor="end" fill="#000">20</text>
<line x1="303.5" y1="158.0" x2="306.3" y2="158.0" stroke="#777" stroke-width="0.7"/>
<text x="298" y="161.8" font-size="10.6" text-anchor="end" fill="#000">40</text>
<line x1="303.5" y1="126.75" x2="306.3" y2="126.75" stroke="#777" stroke-width="0.7"/>
<text x="298" y="130.55" font-size="10.6" text-anchor="end" fill="#000">60</text>
<line x1="303.5" y1="95.5" x2="306.3" y2="95.5" stroke="#777" stroke-width="0.7"/>
<text x="298" y="99.3" font-size="10.6" text-anchor="end" fill="#000">80</text>
<line x1="303.5" y1="64.25" x2="306.3" y2="64.25" stroke="#777" stroke-width="0.7"/>
<text x="298" y="68.05" font-size="10.6" text-anchor="end" fill="#000">100</text>
<line x1="303.5" y1="33.0" x2="306.3" y2="33.0" stroke="#777" stroke-width="0.7"/>
<text x="298" y="36.8" font-size="10.6" text-anchor="end" fill="#000">120</text>
<text x="341.6" y="236.7" font-size="11" font-weight="bold" text-anchor="middle" fill="#000">Basal</text>
<text x="411" y="236.7" font-size="11" font-weight="bold" text-anchor="middle" fill="#000">ATP</text>
<text x="482" y="236.7" font-size="11" font-weight="bold" text-anchor="middle" fill="#000">CytD</text>
<path d="M346 13.8V9.4H486.9V13.8" fill="none" stroke="#000" stroke-width="1.4"/>
<text x="417.7" y="12.1" font-size="12" font-weight="bold" text-anchor="middle" fill="#000">***</text>
<path d="M346.7 32.8V27.5H413.8V32.8" fill="none" stroke="#000" stroke-width="1.4"/>
<text x="380.6" y="29.9" font-size="12" font-weight="bold" text-anchor="middle" fill="#000">***</text>
<path d="M348.2 41.8L418.8 118.5L475 163.1" fill="none" stroke="#333" stroke-width="0.9" stroke-dasharray="12 4" stroke-dashoffset="0"/>
<path d="M334.2 56.7L404.6 123.5L481.9 184.6" fill="none" stroke="#333" stroke-width="0.9" stroke-dasharray="14 4" stroke-dashoffset="3"/>
<path d="M341.4 60.8L411.5 136.5L475 180.6" fill="none" stroke="#333" stroke-width="0.9" stroke-dasharray="10 3" stroke-dashoffset="6"/>
<path d="M341.2 71.9L411.5 131.5L475 166.9" fill="none" stroke="#333" stroke-width="0.9" stroke-dasharray="16 5" stroke-dashoffset="2"/>
<path d="M334.2 77.7L404.6 126.5L489.1 156.9" fill="none" stroke="#333" stroke-width="0.9" stroke-dasharray="13 4" stroke-dashoffset="5"/>
<path d="M348.5 86.5L418.8 105.4L475 140.6" fill="none" stroke="#333" stroke-width="0.9" stroke-dasharray="11 3" stroke-dashoffset="1"/>
<path d="M341.2 93.7L411.5 102.3L481.9 154.4" fill="none" stroke="#333" stroke-width="0.9" stroke-dasharray="12 4" stroke-dashoffset="4"/>
<path d="M348.3 96.8L418.8 121.0L489.1 181" fill="none" stroke="#333" stroke-width="0.9" stroke-dasharray="14 4" stroke-dashoffset="0"/>
<path d="M334.2 99L411.5 96.2L482.3 166" fill="none" stroke="#333" stroke-width="0.9" stroke-dasharray="10 3" stroke-dashoffset="3"/>
<path d="M334.2 104.5L411.5 127.3L481.9 205" fill="none" stroke="#333" stroke-width="0.9" stroke-dasharray="16 5" stroke-dashoffset="6"/>
<path d="M341.6 104.5L411.5 129.5L481.9 184.6" fill="none" stroke="#333" stroke-width="0.9" stroke-dasharray="13 4" stroke-dashoffset="2"/>
<path d="M334.2 108.8L404.6 131.5L481.9 178.1" fill="none" stroke="#333" stroke-width="0.9" stroke-dasharray="11 3" stroke-dashoffset="5"/>
<path d="M341.6 109.5L418.8 114.2L489.1 175.6" fill="none" stroke="#333" stroke-width="0.9" stroke-dasharray="12 4" stroke-dashoffset="1"/>
<path d="M348.2 110.3L404.6 151.9L475 198.8" fill="none" stroke="#333" stroke-width="0.9" stroke-dasharray="14 4" stroke-dashoffset="4"/>
<path d="M334.2 112.3L418.5 140.2L489.1 167.5" fill="none" stroke="#333" stroke-width="0.9" stroke-dasharray="10 3" stroke-dashoffset="0"/>
<path d="M341.3 116.9L404.9 173.6L481.9 200.6" fill="none" stroke="#333" stroke-width="0.9" stroke-dasharray="16 5" stroke-dashoffset="3"/>
<path d="M341.3 119.8L411.5 138.5L481.9 187.7" fill="none" stroke="#333" stroke-width="0.9" stroke-dasharray="13 4" stroke-dashoffset="6"/>
<path d="M348.2 118.7L418.5 146.2L475 171.3" fill="none" stroke="#333" stroke-width="0.9" stroke-dasharray="11 3" stroke-dashoffset="2"/>
<path d="M348.2 121.7L418.5 146.2L489.1 172.5" fill="none" stroke="#333" stroke-width="0.9" stroke-dasharray="12 4" stroke-dashoffset="5"/>
<path d="M334.2 126.3L404.6 147.3L489.1 181" fill="none" stroke="#333" stroke-width="0.9" stroke-dasharray="14 4" stroke-dashoffset="1"/>
<path d="M341.4 125.8L411.5 151.9L481.9 187.7" fill="none" stroke="#333" stroke-width="0.9" stroke-dasharray="10 3" stroke-dashoffset="4"/>
<path d="M348.3 127.3L418.7 167.8L489.1 172.5" fill="none" stroke="#333" stroke-width="0.9" stroke-dasharray="16 5" stroke-dashoffset="0"/>
<path d="M334.2 131.5L404.6 128.5L489.1 176.0" fill="none" stroke="#333" stroke-width="0.9" stroke-dasharray="13 4" stroke-dashoffset="3"/>
<path d="M334.2 141.2L404.6 147.3L475 163.1" fill="none" stroke="#333" stroke-width="0.9" stroke-dasharray="11 3" stroke-dashoffset="6"/>
<path d="M341.4 140.4L411.5 141.9L475 189.8" fill="none" stroke="#333" stroke-width="0.9" stroke-dasharray="12 4" stroke-dashoffset="2"/>
<path d="M348.3 138.8L418.7 174L489.1 200.6" fill="none" stroke="#333" stroke-width="0.9" stroke-dasharray="14 4" stroke-dashoffset="5"/>
<path d="M334.2 148.3L411.9 185.1L475 198.8" fill="none" stroke="#333" stroke-width="0.9" stroke-dasharray="10 3" stroke-dashoffset="1"/>
<path d="M341.4 150L411.9 168.1L481.9 191.3" fill="none" stroke="#333" stroke-width="0.9" stroke-dasharray="16 5" stroke-dashoffset="4"/>
<circle cx="348.2" cy="41.8" r="2.4" fill="#8a8a8a" stroke="#000" stroke-width="1.1"/>
<path d="M331.50 59.00L336.90 59.00L334.20 54.40Z" fill="#222" stroke="#000" stroke-width="1" stroke-linejoin="miter"/>
<circle cx="341.4" cy="60.8" r="2.9" fill="#000"/>
<rect x="338.9" y="69.60000000000001" width="4.6" height="4.6" fill="#666" stroke="#000" stroke-width="1"/>
<path d="M331.40 75.40L337.00 75.40L334.20 80.00Z" fill="#fff" stroke="#000" stroke-width="1.1" stroke-linejoin="miter"/>
<path d="M345.70 84.20L351.30 84.20L348.50 88.80Z" fill="#fff" stroke="#000" stroke-width="1.1" stroke-linejoin="miter"/>
<rect x="338.9" y="91.4" width="4.6" height="4.6" fill="#666" stroke="#000" stroke-width="1"/>
<circle cx="348.3" cy="96.8" r="2.4" fill="#8a8a8a" stroke="#000" stroke-width="1.1"/>
<circle cx="334.2" cy="99" r="2.9" fill="#000"/>
<path d="M331.50 106.80L336.90 106.80L334.20 102.20Z" fill="#222" stroke="#000" stroke-width="1" stroke-linejoin="miter"/>
<path d="M338.90 106.80L344.30 106.80L341.60 102.20Z" fill="#222" stroke="#000" stroke-width="1" stroke-linejoin="miter"/>
<path d="M331.40 106.50L337.00 106.50L334.20 111.10Z" fill="#fff" stroke="#000" stroke-width="1.1" stroke-linejoin="miter"/>
<rect x="339.3" y="107.2" width="4.6" height="4.6" fill="#666" stroke="#000" stroke-width="1"/>
<rect x="345.9" y="108.0" width="4.6" height="4.6" fill="#666" stroke="#000" stroke-width="1"/>
<path d="M334.2 109.2L337.3 112.3L334.2 115.39999999999999L331.09999999999997 112.3Z" fill="#fff" stroke="#000" stroke-width="1.1"/>
<rect x="339.0" y="114.60000000000001" width="4.6" height="4.6" fill="#666" stroke="#000" stroke-width="1"/>
<circle cx="341.3" cy="119.8" r="2.9" fill="#000"/>
<path d="M348.2 115.60000000000001L351.3 118.7L348.2 121.8L345.09999999999997 118.7Z" fill="#fff" stroke="#000" stroke-width="1.1"/>
<path d="M348.2 118.60000000000001L351.3 121.7L348.2 124.8L345.09999999999997 121.7Z" fill="#fff" stroke="#000" stroke-width="1.1"/>
<circle cx="334.2" cy="126.3" r="2.4" fill="#8a8a8a" stroke="#000" stroke-width="1.1"/>
<circle cx="341.4" cy="125.8" r="2.9" fill="#000"/>
<path d="M348.3 124.2L351.40000000000003 127.3L348.3 130.4L345.2 127.3Z" fill="#fff" stroke="#000" stroke-width="1.1"/>
<path d="M331.50 133.80L336.90 133.80L334.20 129.20Z" fill="#888" stroke="#000" stroke-width="1" stroke-linejoin="miter"/>
<circle cx="334.2" cy="141.2" r="2.4" fill="#8a8a8a" stroke="#000" stroke-width="1.1"/>
<path d="M338.60 138.10L344.20 138.10L341.40 142.70Z" fill="#fff" stroke="#000" stroke-width="1.1" stroke-linejoin="miter"/>
<path d="M348.3 135.70000000000002L351.40000000000003 138.8L348.3 141.9L345.2 138.8Z" fill="#fff" stroke="#000" stroke-width="1.1"/>
<rect x="331.9" y="146.0" width="4.6" height="4.6" fill="#666" stroke="#000" stroke-width="1"/>
<path d="M338.60 147.70L344.20 147.70L341.40 152.30Z" fill="#fff" stroke="#000" stroke-width="1.1" stroke-linejoin="miter"/>
<circle cx="418.8" cy="118.5" r="2.4" fill="#8a8a8a" stroke="#000" stroke-width="1.1"/>
<path d="M401.90 125.80L407.30 125.80L404.60 121.20Z" fill="#222" stroke="#000" stroke-width="1" stroke-linejoin="miter"/>
<circle cx="411.5" cy="136.5" r="2.9" fill="#000"/>
<rect x="409.2" y="129.2" width="4.6" height="4.6" fill="#666" stroke="#000" stroke-width="1"/>
<path d="M401.80 124.20L407.40 124.20L404.60 128.80Z" fill="#fff" stroke="#000" stroke-width="1.1" stroke-linejoin="miter"/>
<path d="M416.00 103.10L421.60 103.10L418.80 107.70Z" fill="#fff" stroke="#000" stroke-width="1.1" stroke-linejoin="miter"/>
<rect x="409.2" y="100.0" width="4.6" height="4.6" fill="#666" stroke="#000" stroke-width="1"/>
<circle cx="418.8" cy="121.0" r="2.4" fill="#8a8a8a" stroke="#000" stroke-width="1.1"/>
<circle cx="411.5" cy="96.2" r="2.9" fill="#000"/>
<path d="M408.80 129.60L414.20 129.60L411.50 125.00Z" fill="#222" stroke="#000" stroke-width="1" stroke-linejoin="miter"/>
<path d="M408.80 131.80L414.20 131.80L411.50 127.20Z" fill="#222" stroke="#000" stroke-width="1" stroke-linejoin="miter"/>
<path d="M401.80 129.20L407.40 129.20L404.60 133.80Z" fill="#fff" stroke="#000" stroke-width="1.1" stroke-linejoin="miter"/>
<rect x="416.5" y="111.9" width="4.6" height="4.6" fill="#666" stroke="#000" stroke-width="1"/>
<rect x="402.3" y="149.6" width="4.6" height="4.6" fill="#666" stroke="#000" stroke-width="1"/>
<path d="M418.5 137.1L421.6 140.2L418.5 143.29999999999998L415.4 140.2Z" fill="#fff" stroke="#000" stroke-width="1.1"/>
<rect x="402.59999999999997" y="171.29999999999998" width="4.6" height="4.6" fill="#666" stroke="#000" stroke-width="1"/>
<circle cx="411.5" cy="138.5" r="2.9" fill="#000"/>
<path d="M418.5 143.1L421.6 146.2L418.5 149.29999999999998L415.4 146.2Z" fill="#fff" stroke="#000" stroke-width="1.1"/>
<path d="M418.5 143.1L421.6 146.2L418.5 149.29999999999998L415.4 146.2Z" fill="#fff" stroke="#000" stroke-width="1.1"/>
<circle cx="404.6" cy="147.3" r="2.4" fill="#8a8a8a" stroke="#000" stroke-width="1.1"/>
<circle cx="411.5" cy="151.9" r="2.9" fill="#000"/>
<path d="M418.7 164.70000000000002L421.8 167.8L418.7 170.9L415.59999999999997 167.8Z" fill="#fff" stroke="#000" stroke-width="1.1"/>
<path d="M401.90 130.80L407.30 130.80L404.60 126.20Z" fill="#888" stroke="#000" stroke-width="1" stroke-linejoin="miter"/>
<circle cx="404.6" cy="147.3" r="2.4" fill="#8a8a8a" stroke="#000" stroke-width="1.1"/>
<path d="M408.70 139.60L414.30 139.60L411.50 144.20Z" fill="#fff" stroke="#000" stroke-width="1.1" stroke-linejoin="miter"/>
<path d="M418.7 170.9L421.8 174L418.7 177.1L415.59999999999997 174Z" fill="#fff" stroke="#000" stroke-width="1.1"/>
<rect x="409.59999999999997" y="182.79999999999998" width="4.6" height="4.6" fill="#666" stroke="#000" stroke-width="1"/>
<path d="M409.10 165.80L414.70 165.80L411.90 170.40Z" fill="#fff" stroke="#000" stroke-width="1.1" stroke-linejoin="miter"/>
<circle cx="475" cy="163.1" r="2.4" fill="#8a8a8a" stroke="#000" stroke-width="1.1"/>
<path d="M479.20 186.90L484.60 186.90L481.90 182.30Z" fill="#222" stroke="#000" stroke-width="1" stroke-linejoin="miter"/>
<circle cx="475" cy="180.6" r="2.9" fill="#000"/>
<rect x="472.7" y="164.6" width="4.6" height="4.6" fill="#666" stroke="#000" stroke-width="1"/>
<path d="M486.30 154.60L491.90 154.60L489.10 159.20Z" fill="#fff" stroke="#000" stroke-width="1.1" stroke-linejoin="miter"/>
<path d="M472.20 138.30L477.80 138.30L475.00 142.90Z" fill="#fff" stroke="#000" stroke-width="1.1" stroke-linejoin="miter"/>
<rect x="479.59999999999997" y="152.1" width="4.6" height="4.6" fill="#666" stroke="#000" stroke-width="1"/>
<circle cx="489.1" cy="181" r="2.4" fill="#8a8a8a" stroke="#000" stroke-width="1.1"/>
<circle cx="482.3" cy="166" r="2.9" fill="#000"/>
<path d="M479.20 207.30L484.60 207.30L481.90 202.70Z" fill="#222" stroke="#000" stroke-width="1" stroke-linejoin="miter"/>
<path d="M479.20 186.90L484.60 186.90L481.90 182.30Z" fill="#222" stroke="#000" stroke-width="1" stroke-linejoin="miter"/>
<path d="M479.10 175.80L484.70 175.80L481.90 180.40Z" fill="#fff" stroke="#000" stroke-width="1.1" stroke-linejoin="miter"/>
<rect x="486.8" y="173.29999999999998" width="4.6" height="4.6" fill="#666" stroke="#000" stroke-width="1"/>
<rect x="472.7" y="196.5" width="4.6" height="4.6" fill="#666" stroke="#000" stroke-width="1"/>
<path d="M489.1 164.4L492.20000000000005 167.5L489.1 170.6L486.0 167.5Z" fill="#fff" stroke="#000" stroke-width="1.1"/>
<rect x="479.59999999999997" y="198.29999999999998" width="4.6" height="4.6" fill="#666" stroke="#000" stroke-width="1"/>
<circle cx="481.9" cy="187.7" r="2.9" fill="#000"/>
<path d="M475 168.20000000000002L478.1 171.3L475 174.4L471.9 171.3Z" fill="#fff" stroke="#000" stroke-width="1.1"/>
<path d="M489.1 169.4L492.20000000000005 172.5L489.1 175.6L486.0 172.5Z" fill="#fff" stroke="#000" stroke-width="1.1"/>
<circle cx="489.1" cy="181" r="2.4" fill="#8a8a8a" stroke="#000" stroke-width="1.1"/>
<circle cx="481.9" cy="187.7" r="2.9" fill="#000"/>
<path d="M489.1 169.4L492.20000000000005 172.5L489.1 175.6L486.0 172.5Z" fill="#fff" stroke="#000" stroke-width="1.1"/>
<path d="M486.40 178.30L491.80 178.30L489.10 173.70Z" fill="#888" stroke="#000" stroke-width="1" stroke-linejoin="miter"/>
<circle cx="475" cy="163.1" r="2.4" fill="#8a8a8a" stroke="#000" stroke-width="1.1"/>
<path d="M472.20 187.50L477.80 187.50L475.00 192.10Z" fill="#fff" stroke="#000" stroke-width="1.1" stroke-linejoin="miter"/>
<path d="M489.1 197.5L492.20000000000005 200.6L489.1 203.7L486.0 200.6Z" fill="#fff" stroke="#000" stroke-width="1.1"/>
<rect x="472.7" y="196.5" width="4.6" height="4.6" fill="#666" stroke="#000" stroke-width="1"/>
<path d="M479.10 189.00L484.70 189.00L481.90 193.60Z" fill="#fff" stroke="#000" stroke-width="1.1" stroke-linejoin="miter"/>
</svg>
</body></html>
